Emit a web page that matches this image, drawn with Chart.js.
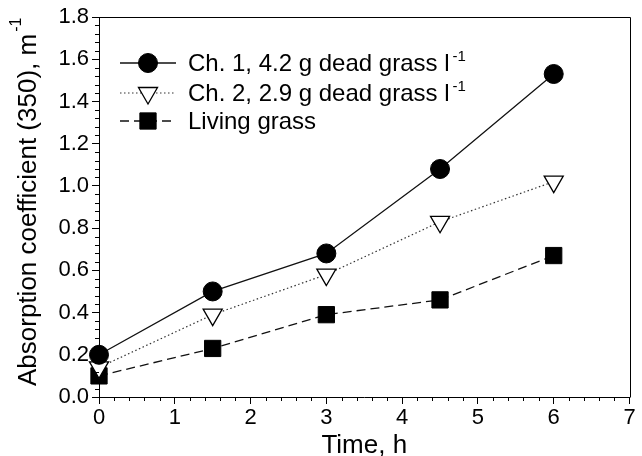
<!DOCTYPE html>
<html>
<head>
<meta charset="utf-8">
<script src="https://cdn.jsdelivr.net/npm/chart.js@4.4.0/dist/chart.umd.min.js"></script>
<style>
  html, body { margin: 0; padding: 0; background: #fff; }
  #wrap { width: 642px; height: 456px; position: relative; }
</style>
</head>
<body>
<div id="wrap"><canvas id="chart" width="642" height="456"></canvas></div>
<script>
// data
const times = [0, 1.5, 3, 4.5, 6];
const ch1Values = [0.20, 0.50, 0.68, 1.08, 1.53];
const ch2Values = [0.14, 0.39, 0.58, 0.83, 1.02];
const livingValues = [0.10, 0.23, 0.39, 0.46, 0.67];

const seriesLabels = ["Ch. 1, 4.2 g dead grass l", "Ch. 2, 2.9 g dead grass l", "Living grass"];
const seriesSuperscripts = ["-1", "-1", ""];

const xTicks = [0, 1, 2, 3, 4, 5, 6, 7];
const yTicks = [0, 0.2, 0.4, 0.6, 0.8, 1.0, 1.2, 1.4, 1.6, 1.8];
const xTitle = "Time, h";
const yTitle = "Absorption coefficient (350), m";
const yTitleSup = "-1";

const FONT = "'Liberation Sans', Arial, sans-serif";

function toPoints(values) {
  return times.map((t, i) => ({ x: t, y: values[i] }));
}

// minor ticks, frame, legend and y title
const decorPlugin = {
  id: "decor",
  afterDraw(chart) {
    const ctx = chart.ctx;
    const area = chart.chartArea;
    const xs = chart.scales.x;
    const ys = chart.scales.y;
    ctx.save();
    ctx.strokeStyle = "#000";
    ctx.lineWidth = 1;

    // frame top / right
    ctx.beginPath();
    ctx.moveTo(Math.round(area.left) + 0.5, Math.round(area.top) + 0.5);
    ctx.lineTo(Math.round(area.right) + 0.5, Math.round(area.top) + 0.5);
    ctx.lineTo(Math.round(area.right) + 0.5, Math.round(area.bottom) + 0.5);
    ctx.stroke();

    // minor ticks
    ctx.beginPath();
    for (let i = 0; i <= 35; i++) {
      if (i % 5 === 0) continue;
      const px = Math.round(xs.getPixelForValue(i * 0.2)) + 0.5;
      ctx.moveTo(px, area.bottom);
      ctx.lineTo(px, area.bottom + 4);
    }
    for (let i = 0; i <= 45; i++) {
      if (i % 5 === 0) continue;
      const py = Math.round(ys.getPixelForValue(i * 0.04)) + 0.5;
      ctx.moveTo(area.left, py);
      ctx.lineTo(area.left - 4, py);
    }
    ctx.stroke();

    // legend
    const rows = [63, 93, 121];
    chart.data.datasets.forEach((ds, i) => {
      const y = rows[i];
      ctx.save();
      ctx.strokeStyle = ds.borderColor;
      ctx.lineWidth = ds.borderWidth;
      ctx.setLineDash(ds.borderDash || []);
      ctx.beginPath();
      ctx.moveTo(120, y);
      ctx.lineTo(176, y);
      ctx.stroke();
      ctx.restore();
      ctx.save();
      ctx.fillStyle = ds.pointBackgroundColor;
      ctx.strokeStyle = ds.pointBorderColor;
      ctx.lineWidth = ds.pointBorderWidth;
      Chart.helpers.drawPoint(ctx, {
        pointStyle: ds.pointStyle,
        rotation: ds.pointRotation || 0,
        radius: ds.pointRadius,
        borderWidth: ds.pointBorderWidth
      }, 148, y);
      ctx.restore();

      ctx.fillStyle = "#000";
      ctx.font = "24px " + FONT;
      ctx.textBaseline = "middle";
      ctx.textAlign = "left";
      ctx.fillText(seriesLabels[i], 188, y + 1);
      if (seriesSuperscripts[i]) {
        const w = ctx.measureText(seriesLabels[i]).width;
        ctx.font = "15px " + FONT;
        ctx.textBaseline = "alphabetic";
        ctx.fillText(seriesSuperscripts[i], 188 + w + 3, y - 2);
      }
    });

    // x title
    ctx.fillStyle = "#000";
    ctx.font = "26px " + FONT;
    ctx.textAlign = "center";
    ctx.textBaseline = "alphabetic";
    ctx.fillText(xTitle, (area.left + area.right) / 2, 453);

    // y title (rotated)
    ctx.save();
    ctx.translate(36, 386);
    ctx.rotate(-Math.PI / 2);
    ctx.textAlign = "left";
    ctx.font = "26px " + FONT;
    ctx.fillText(yTitle, 0, 0);
    const tw = ctx.measureText(yTitle).width;
    ctx.font = "16px " + FONT;
    ctx.fillText(yTitleSup, tw + 2, -15);
    ctx.restore();

    ctx.restore();
  }
};

const datasets = [
  {
    label: seriesLabels[0],
    data: toPoints(ch1Values),
    borderColor: "#111",
    borderWidth: 1.3,
    pointStyle: "circle",
    pointRadius: 9.5,
    pointBackgroundColor: "#000",
    pointBorderColor: "#000",
    pointBorderWidth: 1,
  },
  {
    label: seriesLabels[1],
    data: toPoints(ch2Values),
    borderColor: "#333",
    borderWidth: 1.2,
    borderDash: [1.5, 2.5],
    pointStyle: "triangle",
    pointRotation: 180,
    pointRadius: 11,
    pointBackgroundColor: "#fff",
    pointBorderColor: "#000",
    pointBorderWidth: 1.3,
  },
  {
    label: seriesLabels[2],
    data: toPoints(livingValues),
    borderColor: "#111",
    borderWidth: 1.3,
    borderDash: [9, 5],
    pointStyle: "rect",
    pointRadius: 11.5,
    pointBackgroundColor: "#000",
    pointBorderColor: "#000",
    pointBorderWidth: 1,
  },
].map((d) => Object.assign({ showLine: true, tension: 0, clip: false, pointHoverRadius: d.pointRadius }, d));

new Chart(document.getElementById("chart"), {
  type: "scatter",
  data: { datasets },
  options: {
    responsive: false,
    animation: false,
    devicePixelRatio: 1,
    events: [],
    layout: { padding: { left: 0, right: 6, top: 17, bottom: 0 } },
    plugins: { legend: { display: false }, tooltip: { enabled: false } },
    scales: {
      x: {
        type: "linear",
        min: 0,
        max: 7,
        afterBuildTicks: (scale) => { scale.ticks = xTicks.map((v) => ({ value: v })); },
        afterFit: (scale) => { scale.height = 59; },
        ticks: {
          color: "#000",
          font: { family: FONT, size: 22 },
          padding: 1,
          maxRotation: 0,
          autoSkip: false,
          callback: (v) => String(v),
        },
        grid: { drawOnChartArea: false, drawTicks: true, tickLength: 7, color: "#000", lineWidth: 1 },
        border: { display: true, color: "#000", width: 1 },
      },
      y: {
        type: "linear",
        min: 0,
        max: 1.8,
        afterBuildTicks: (scale) => { scale.ticks = yTicks.map((v) => ({ value: v })); },
        afterFit: (scale) => { scale.width = 99; },
        ticks: {
          color: "#000",
          font: { family: FONT, size: 22 },
          padding: 3,
          autoSkip: false,
          callback: (v) => Number(v).toFixed(1),
        },
        grid: { drawOnChartArea: false, drawTicks: true, tickLength: 7, color: "#000", lineWidth: 1 },
        border: { display: true, color: "#000", width: 1 },
      },
    },
  },
  plugins: [decorPlugin],
});
</script>
</body>
</html>
